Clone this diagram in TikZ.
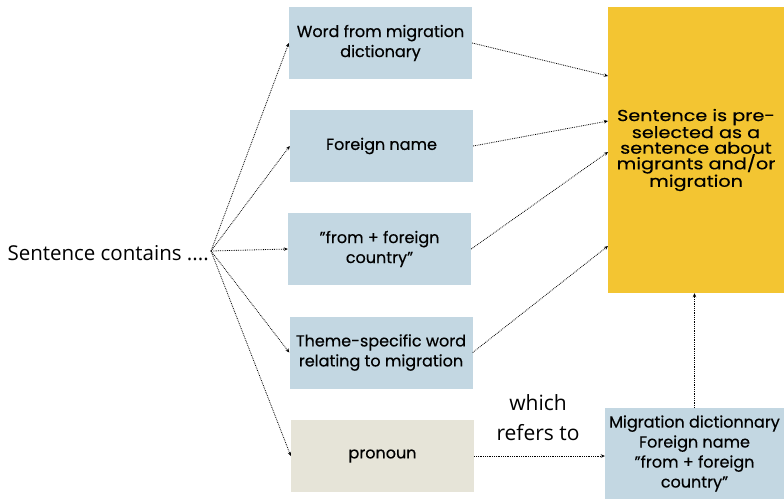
\documentclass[tikz,border=0pt]{standalone}
\usepackage{fontspec}
\setmainfont{Poppins}[FakeBold=0.4]
\newfontfamily\widefont{Poppins}[FakeStretch=1.2,FakeBold=0.4]
\newfontfamily\lightfont{Open Sans}
\usetikzlibrary{arrows.meta}
\definecolor{boxblue}{HTML}{C3D7E2}
\definecolor{boxbeige}{HTML}{E6E4D8}
\definecolor{boxyellow}{HTML}{F3C532}
\begin{document}
\begin{tikzpicture}[x=1pt,y=-1pt,
  bluebox/.style={fill=boxblue,draw=none,minimum width=183pt,minimum height=72pt,align=center,inner sep=0pt,font=\fontsize{16}{20}\selectfont},
  conn/.style={densely dotted,line width=0.8pt,-{Stealth[length=4pt,width=3.5pt]}}]
\useasboundingbox (0,0) rectangle (784,499);
\node[bluebox] (b1) at (380.5,43) {Word from migration\\dictionary};
\node[bluebox] (b2) at (381.5,146) {Foreign name};
\node[bluebox] (b3) at (379.5,249) {\char34 from + foreign\\country\char34};
\node[bluebox] (b4) at (381,352.5) {Theme-specific word\\relating to migration};
\node[bluebox,fill=boxbeige] (b5) at (382.5,456) {pronoun};
\node[fill=boxyellow,minimum width=176pt,minimum height=286pt,inner sep=0pt,align=center,font=\widefont\fontsize{16}{15.6}\selectfont] (Y) at (696,150) {Sentence is pre-\\selected as a\\sentence about\\migrants and/or\\migration};
\node[bluebox,minimum width=179pt,minimum height=91pt] (R) at (694.5,453.5) {Migration dictionnary\\Foreign name\\\char34 from + foreign\\country\char34};
\node[anchor=east,inner sep=0pt,font=\lightfont\fontsize{20.5}{22}\selectfont] (S) at (209,253) {Sentence contains ....};
\coordinate (o) at (211,251);
\node[align=center,inner sep=0pt,font=\lightfont\fontsize{21}{30}\selectfont] (L) at (538,418) {which\\refers to};
\coordinate (y1) at (608,76);
\coordinate (y2) at (608,121);
\coordinate (y3) at (608,152);
\coordinate (y4) at (608,246);
\draw[conn] (o) -- (b1.west);
\draw[conn] (o) -- (b2.west);
\draw[conn] (o) -- (b3.west);
\draw[conn] (o) -- (b4.west);
\draw[conn] (o) -- (b5.west);
\draw[conn] (b1.east) -- (y1);
\draw[conn] (b2.east) -- (y2);
\draw[conn] (b3.east) -- (y3);
\draw[conn] (b4.east) -- (y4);
\draw[conn] (b5.east) -- (b5.east -| R.west);
\draw[conn] (R.north) -- (R.north |- Y.south);
\end{tikzpicture}
\end{document}
